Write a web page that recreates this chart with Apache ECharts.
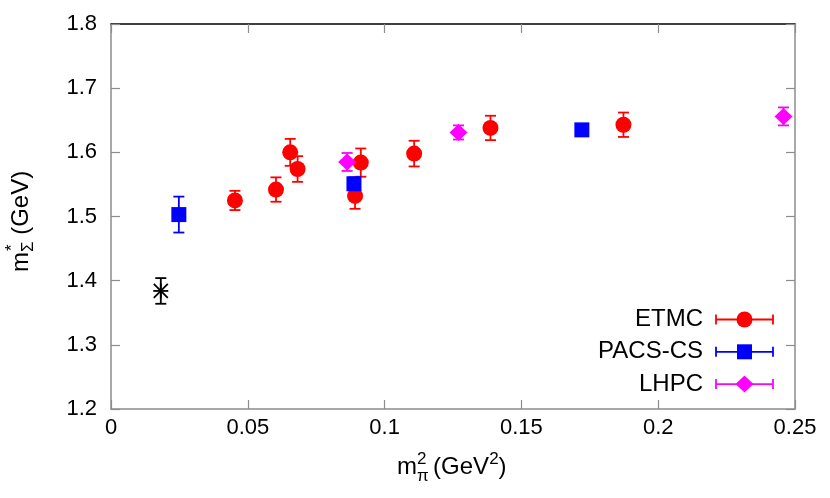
<!DOCTYPE html>
<html><head><meta charset="utf-8">
<script src="https://cdn.jsdelivr.net/npm/echarts@6/dist/echarts.min.js"></script>
<style>html,body{margin:0;padding:0;background:#fff}#c{width:830px;height:498px}</style>
</head><body><div id="c"></div>
<script>
const xTicks = ['0', '0.05', '0.1', '0.15', '0.2', '0.25'];
const yTicks = ['1.2', '1.3', '1.4', '1.5', '1.6', '1.7', '1.8'];

const etmcX = [0.0453, 0.0603, 0.0655, 0.0682, 0.0892, 0.0913, 0.1108, 0.1387, 0.1873];
const etmcY = [1.525, 1.542, 1.600, 1.574, 1.532, 1.584, 1.598, 1.638, 1.643];
const etmcErr = [0.015, 0.019, 0.021, 0.020, 0.020, 0.022, 0.020, 0.019, 0.019];

const pacsX = [0.0248, 0.0888, 0.1721];
const pacsY = [1.503, 1.551, 1.635];
const pacsErr = [0.028, 0.010, 0.005];

const lhpcX = [0.0863, 0.1270, 0.2458];
const lhpcY = [1.585, 1.631, 1.656];
const lhpcErr = [0.014, 0.011, 0.014];

const physX = [0.0182];
const physY = [1.384];
const physErr = [0.020];

const seriesNames = ['ETMC', 'PACS-CS', 'LHPC'];
const seriesColors = ['#ff0000', '#0000ff', '#ff00ff'];

const FONT = '"Liberation Sans", Arial, sans-serif';

function errSeries(xs, ys, es, color) {
  return {
    type: 'custom', coordinateSystem: 'cartesian2d', silent: true, animation: false, z: 2,
    data: xs.map((x, i) => [x, ys[i], es[i]]),
    encode: { x: 0, y: 1 },
    renderItem(params, api) {
      const x = api.value(0), y = api.value(1), e = api.value(2);
      const t = api.coord([x, y + e]), b = api.coord([x, y - e]);
      const hw = 5.5, st = { stroke: color, lineWidth: 1.8 };
      return { type: 'group', children: [
        { type: 'line', shape: { x1: t[0], y1: t[1], x2: b[0], y2: b[1] }, style: st },
        { type: 'line', shape: { x1: t[0] - hw, y1: t[1], x2: t[0] + hw, y2: t[1] }, style: st },
        { type: 'line', shape: { x1: b[0] - hw, y1: b[1], x2: b[0] + hw, y2: b[1] }, style: st }
      ]};
    }
  };
}
function markSeries(xs, ys, color, symbol, size) {
  return {
    type: 'scatter', silent: true, animation: false, z: 2,
    data: xs.map((x, i) => [x, ys[i]]),
    symbol: symbol, symbolSize: size,
    itemStyle: { color: color, opacity: 1 }
  };
}
const starSeries = {
  type: 'custom', coordinateSystem: 'cartesian2d', silent: true, animation: false, z: 2,
  data: physX.map((x, i) => [x, physY[i]]),
  encode: { x: 0, y: 1 },
  renderItem(params, api) {
    const p = api.coord([api.value(0), api.value(1)]);
    const r = 7.5, d = 7, st = { stroke: '#000', lineWidth: 1.8 };
    return { type: 'group', children: [
      { type: 'line', shape: { x1: p[0] - r, y1: p[1], x2: p[0] + r, y2: p[1] }, style: st },
      { type: 'line', shape: { x1: p[0], y1: p[1] - r, x2: p[0], y2: p[1] + r }, style: st },
      { type: 'line', shape: { x1: p[0] - d, y1: p[1] - d, x2: p[0] + d, y2: p[1] + d }, style: st },
      { type: 'line', shape: { x1: p[0] - d, y1: p[1] + d, x2: p[0] + d, y2: p[1] - d }, style: st }
    ]};
  }
};

const gray = '#8c8c8c';
function axisBase(extra) {
  return Object.assign({
    type: 'value', splitLine: { show: false },
    axisLine: { show: true, onZero: false, lineStyle: { color: gray, width: 1.5 } },
    axisTick: { show: true, inside: true, length: 9, lineStyle: { color: gray, width: 1.2 } }
  }, extra);
}

// legend graphic
const legendEls = [];
seriesNames.forEach((name, i) => {
  const y = 319.5 + 32.3 * i, c = seriesColors[i];
  const st = { stroke: c, lineWidth: 1.8 };
  const x1 = 716, x2 = 773, xm = 744.5;
  legendEls.push({ type: 'text', x: 703, y: y, style: { text: name, font: '24px ' + FONT, fill: '#000', align: 'right', verticalAlign: 'middle' } });
  legendEls.push({ type: 'line', shape: { x1: x1, y1: y, x2: x2, y2: y }, style: st });
  legendEls.push({ type: 'line', shape: { x1: x1, y1: y - 5, x2: x1, y2: y + 5 }, style: st });
  legendEls.push({ type: 'line', shape: { x1: x2, y1: y - 5, x2: x2, y2: y + 5 }, style: st });
  if (i === 0) legendEls.push({ type: 'circle', shape: { cx: xm, cy: y, r: 8 }, style: { fill: c } });
  if (i === 1) legendEls.push({ type: 'rect', shape: { x: xm - 7.5, y: y - 7.5, width: 15, height: 15 }, style: { fill: c } });
  if (i === 2) legendEls.push({ type: 'polygon', shape: { points: [[xm, y - 8.5], [xm + 9, y], [xm, y + 8.5], [xm - 9, y]] }, style: { fill: c } });
});

const richTitle = {
  m: { fontSize: 24, fontFamily: FONT, lineHeight: 32 },
  n: { fontSize: 24, fontFamily: FONT, lineHeight: 32 },
  s: { fontSize: 17, fontFamily: FONT, verticalAlign: 'top', lineHeight: 22 },
  b: { fontSize: 17, fontFamily: FONT, verticalAlign: 'bottom', lineHeight: 22 }
};

const option = {
  backgroundColor: '#fff',
  animation: false,
  grid: { left: 111, right: 35, top: 24, bottom: 89 },
  xAxis: [
    axisBase({ min: 0, max: 0.25, interval: 0.05, position: 'bottom',
      axisLabel: { color: '#000', fontSize: 22, fontFamily: FONT, margin: 8,
        formatter: v => xTicks[Math.round(v / 0.05)] } }),
    axisBase({ min: 0, max: 0.25, interval: 0.05, position: 'top',
      axisLine: { show: true, onZero: false, lineStyle: { color: '#000', width: 1.5 } },
      axisLabel: { show: false } })
  ],
  yAxis: [
    axisBase({ min: 1.2, max: 1.8, interval: 0.1, position: 'left',
      axisLabel: { color: '#000', fontSize: 22, fontFamily: FONT, margin: 14,
        formatter: v => yTicks[Math.round((v - 1.2) / 0.1)] } }),
    axisBase({ min: 1.2, max: 1.8, interval: 0.1, position: 'right', axisLabel: { show: false } })
  ],
  graphic: [
    { type: 'text', x: 397, y: 467, style: { text: '{m|m}{s|2}{n| (GeV}{s|2}{n|)}', font: '24px ' + FONT, fill: '#000', align: 'left', verticalAlign: 'middle', rich: richTitle } },
    { type: 'text', x: 417, y: 476, style: { text: 'π', font: '17px ' + FONT, fill: '#000', align: 'left', verticalAlign: 'middle' } },
    { type: 'group', x: 21, y: 272, rotation: Math.PI / 2, children: [
      { type: 'text', x: 0, y: 0, style: { text: '{m|m}{b|Σ}{n| (GeV)}', font: '24px ' + FONT, fill: '#000', align: 'left', verticalAlign: 'middle', rich: richTitle } },
      { type: 'text', x: 21, y: -9, style: { text: '*', font: '17px ' + FONT, fill: '#000', align: 'left', verticalAlign: 'middle' } }
    ]}
  ].concat(legendEls),
  series: [
    errSeries(etmcX, etmcY, etmcErr, seriesColors[0]),
    markSeries(etmcX, etmcY, seriesColors[0], 'circle', 16),
    errSeries(pacsX, pacsY, pacsErr, seriesColors[1]),
    markSeries(pacsX, pacsY, seriesColors[1], 'rect', 15),
    errSeries(lhpcX, lhpcY, lhpcErr, seriesColors[2]),
    markSeries(lhpcX, lhpcY, seriesColors[2], 'diamond', [18, 17]),
    errSeries(physX, physY, physErr, '#000'),
    starSeries
  ]
};
const chart = echarts.init(document.getElementById('c'), null, { renderer: 'canvas' });
chart.setOption(option);
</script>
</body></html>
